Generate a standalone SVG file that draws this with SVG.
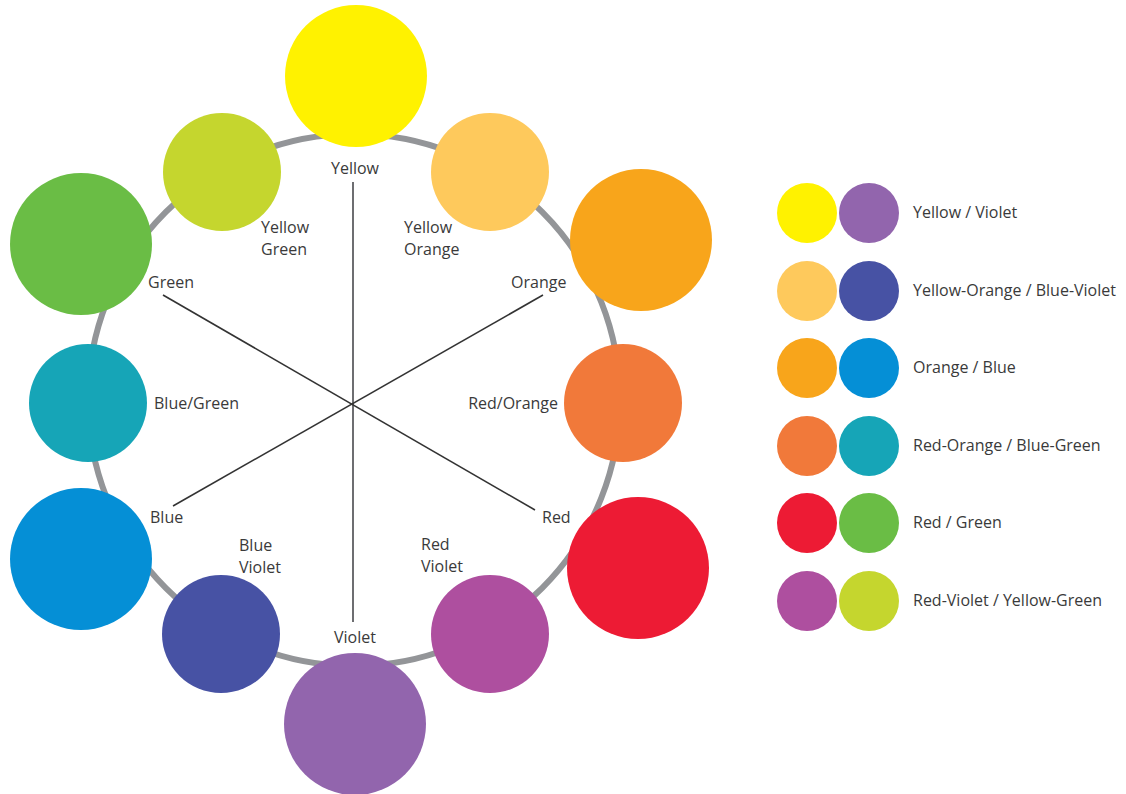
<svg xmlns="http://www.w3.org/2000/svg" width="1126" height="794" viewBox="0 0 1126 794">
<style>
text{font-family:"Open Sans","Liberation Sans",sans-serif;font-size:16px;fill:#3a3a3a}
.ring{fill:none;stroke:#939598;stroke-width:6}
.line{stroke:#333;stroke-width:1.6}
.vline{stroke:#6d6e71;stroke-width:2}
.mid{text-anchor:middle}
.end{text-anchor:end}
</style>
<rect width="1126" height="794" fill="#fff"/>
<g id="ring"><circle class="ring" cx="354" cy="400" r="266"/></g>
<g id="connectors">
<line class="vline" x1="353" y1="182" x2="353" y2="622"/>
<line class="line" x1="163" y1="295" x2="535" y2="510"/>
<line class="line" x1="543" y1="295" x2="173" y2="506"/>
</g>
<g id="yellow"><circle cx="356" cy="76" r="71" fill="#FFF200"/><text class="mid" x="355" y="174">Yellow</text></g>
<g id="yellow-orange"><circle cx="490" cy="172" r="59" fill="#FEC95C"/><text x="404" y="233">Yellow</text><text x="404" y="255">Orange</text></g>
<g id="orange"><circle cx="641" cy="240" r="71" fill="#F8A51B"/><text x="511" y="288">Orange</text></g>
<g id="red-orange"><circle cx="623" cy="403" r="59" fill="#F1793A"/><text class="end" x="558" y="409">Red/Orange</text></g>
<g id="red"><circle cx="638" cy="568" r="71" fill="#ED1B34"/><text x="542" y="523">Red</text></g>
<g id="red-violet"><circle cx="490" cy="634" r="59" fill="#AE4F9F"/><text x="421" y="550">Red</text><text x="421" y="572">Violet</text></g>
<g id="violet"><circle cx="355" cy="724" r="71" fill="#9265AD"/><text x="334" y="643">Violet</text></g>
<g id="blue-violet"><circle cx="221" cy="634" r="59" fill="#4752A4"/><text x="239" y="551">Blue</text><text x="239" y="573">Violet</text></g>
<g id="blue"><circle cx="81" cy="559" r="71" fill="#058FD6"/><text x="150" y="523">Blue</text></g>
<g id="blue-green"><circle cx="88" cy="403" r="59" fill="#16A5B7"/><text x="154" y="409">Blue/Green</text></g>
<g id="green"><circle cx="81" cy="244" r="71" fill="#6ABD45"/><text x="148" y="288">Green</text></g>
<g id="yellow-green"><circle cx="222" cy="172" r="59" fill="#C5D62E"/><text x="261" y="233">Yellow</text><text x="261" y="255">Green</text></g>
<g id="legend">
<g id="pair-yellow-violet"><circle cx="807" cy="213" r="30" fill="#FFF200"/><circle cx="869" cy="213" r="30" fill="#9265AD"/><text x="913" y="218">Yellow / Violet</text></g>
<g id="pair-yo-bv"><circle cx="807" cy="291" r="30" fill="#FEC95C"/><circle cx="869" cy="291" r="30" fill="#4752A4"/><text x="913" y="296">Yellow-Orange / Blue-Violet</text></g>
<g id="pair-orange-blue"><circle cx="807" cy="368" r="30" fill="#F8A51B"/><circle cx="869" cy="368" r="30" fill="#058FD6"/><text x="913" y="373">Orange / Blue</text></g>
<g id="pair-ro-bg"><circle cx="807" cy="446" r="30" fill="#F1793A"/><circle cx="869" cy="446" r="30" fill="#16A5B7"/><text x="913" y="451">Red-Orange / Blue-Green</text></g>
<g id="pair-red-green"><circle cx="807" cy="523" r="30" fill="#ED1B34"/><circle cx="869" cy="523" r="30" fill="#6ABD45"/><text x="913" y="528">Red / Green</text></g>
<g id="pair-rv-yg"><circle cx="807" cy="601" r="30" fill="#AE4F9F"/><circle cx="869" cy="601" r="30" fill="#C5D62E"/><text x="913" y="606">Red-Violet / Yellow-Green</text></g>
</g>
</svg>
